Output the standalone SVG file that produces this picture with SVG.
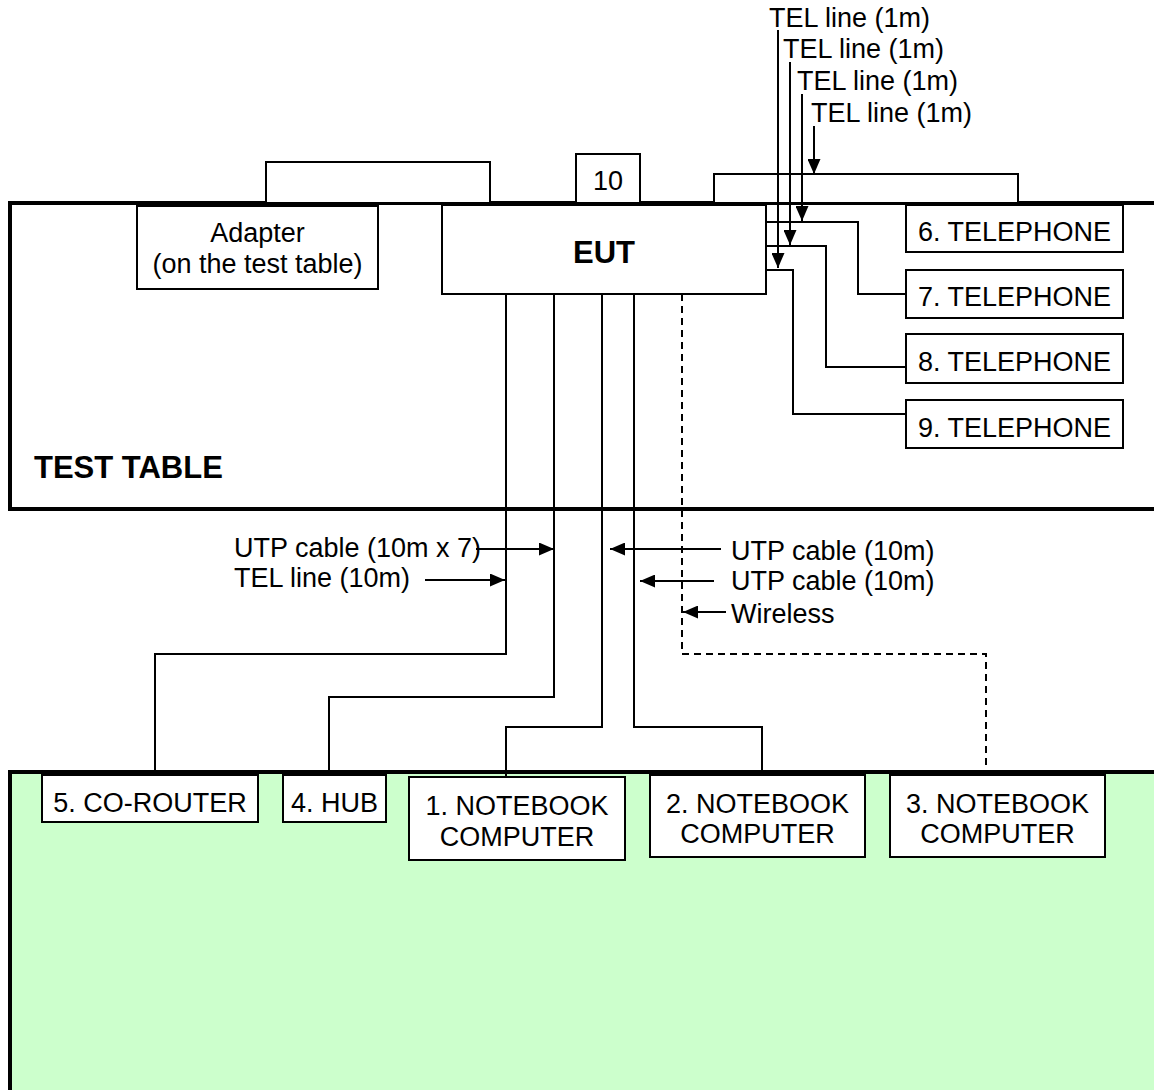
<svg xmlns="http://www.w3.org/2000/svg" width="1154" height="1090" viewBox="0 0 1154 1090">
<style>
  text { font-family: "Liberation Sans", Arial, sans-serif; font-size: 27px; fill: #000; }
  .c { text-anchor: middle; }
  .b { font-weight: bold; font-size: 31px; }
  .box { fill: #fff; stroke: #000; stroke-width: 2; }
  .tbl { stroke: #000; stroke-width: 4; }
  .ln { fill: none; stroke: #000; stroke-width: 2; }
  .dash { fill: none; stroke: #000; stroke-width: 2; stroke-dasharray: 7,5; }
  .ar { fill: none; stroke: #000; stroke-width: 2; marker-end: url(#ah); }
</style>
<defs>
  <marker id="ah" markerUnits="userSpaceOnUse" markerWidth="15" markerHeight="13" refX="15" refY="6.5" orient="auto">
    <path d="M0,0 L15,6.5 L0,13 z" fill="#000"/>
  </marker>
</defs>
<rect width="1154" height="1090" fill="#fff"/>

<g id="test-table">
  <rect class="tbl" x="10" y="203" width="1160" height="306" fill="#fff"/>
  <text class="b" x="34" y="478">TEST TABLE</text>
</g>
<g id="floor-table">
  <rect class="tbl" x="10" y="772" width="1160" height="340" fill="#CCFFCC"/>
</g>

<g id="adapter-top"><rect class="box" x="266" y="162" width="224" height="41"/></g>
<g id="n10"><rect class="box" x="576" y="154" width="64" height="49"/><text class="c" x="608" y="190">10</text></g>
<g id="tel-top"><rect class="box" x="714" y="174" width="304" height="29"/></g>

<g id="adapter"><rect class="box" x="137" y="206" width="241" height="83"/>
  <text class="c" x="257.5" y="242">Adapter</text>
  <text class="c" x="257.5" y="273">(on the test table)</text></g>
<g id="eut"><rect class="box" x="442" y="205" width="324" height="89"/><text class="c b" x="604" y="263">EUT</text></g>

<g id="tel6"><rect class="box" x="906" y="205" width="217" height="47"/><text class="c" x="1014.5" y="241">6. TELEPHONE</text></g>
<g id="tel7"><rect class="box" x="906" y="270" width="217" height="48"/><text class="c" x="1014.5" y="306">7. TELEPHONE</text></g>
<g id="tel8"><rect class="box" x="906" y="334" width="217" height="49"/><text class="c" x="1014.5" y="371">8. TELEPHONE</text></g>
<g id="tel9"><rect class="box" x="906" y="400" width="217" height="48"/><text class="c" x="1014.5" y="437">9. TELEPHONE</text></g>

<g id="corouter"><rect class="box" x="42" y="775" width="216" height="47"/><text class="c" x="150" y="812">5. CO-ROUTER</text></g>
<g id="hub"><rect class="box" x="283" y="775" width="103" height="47"/><text class="c" x="334.5" y="812">4. HUB</text></g>
<g id="nb1"><rect class="box" x="409" y="777" width="216" height="83"/>
  <text class="c" x="517" y="815">1. NOTEBOOK</text><text class="c" x="517" y="846">COMPUTER</text></g>
<g id="nb2"><rect class="box" x="650" y="775" width="215" height="82"/>
  <text class="c" x="757.5" y="813">2. NOTEBOOK</text><text class="c" x="757.5" y="843">COMPUTER</text></g>
<g id="nb3"><rect class="box" x="890" y="775" width="215" height="82"/>
  <text class="c" x="997.5" y="813">3. NOTEBOOK</text><text class="c" x="997.5" y="843">COMPUTER</text></g>

<g id="connectors">
  <path class="ln" d="M506 294 V654 H155 V772"/>
  <path class="ln" d="M554 294 V697 H329 V772"/>
  <path class="ln" d="M602 294 V727 H506 V776"/>
  <path class="ln" d="M634 294 V727 H762 V772"/>
  <path class="dash" d="M682 294 V654 H986 V772"/>
  <path class="ln" d="M767 222 H858 V294 H906"/>
  <path class="ln" d="M767 246 H826 V367 H906"/>
  <path class="ln" d="M767 270 H793 V414 H906"/>
  <path class="ar" d="M778 30 V268"/>
  <path class="ar" d="M790 62 V245"/>
  <path class="ar" d="M802 94 V221"/>
  <path class="ar" d="M814 126 V174"/>
  <path class="ar" d="M476 549 H554"/>
  <path class="ar" d="M425 580 H505"/>
  <path class="ar" d="M721 549 H610"/>
  <path class="ar" d="M714 581 H640"/>
  <path class="ar" d="M726 612 H683"/>
</g>

<g id="labels">
  <text x="769" y="27">TEL line (1m)</text>
  <text x="783" y="58">TEL line (1m)</text>
  <text x="797" y="90">TEL line (1m)</text>
  <text x="811" y="122">TEL line (1m)</text>
  <text x="234" y="557">UTP cable (10m x 7)</text>
  <text x="234" y="587">TEL line (10m)</text>
  <text x="731" y="560">UTP cable (10m)</text>
  <text x="731" y="590">UTP cable (10m)</text>
  <text x="731" y="623">Wireless</text>
</g>
</svg>
